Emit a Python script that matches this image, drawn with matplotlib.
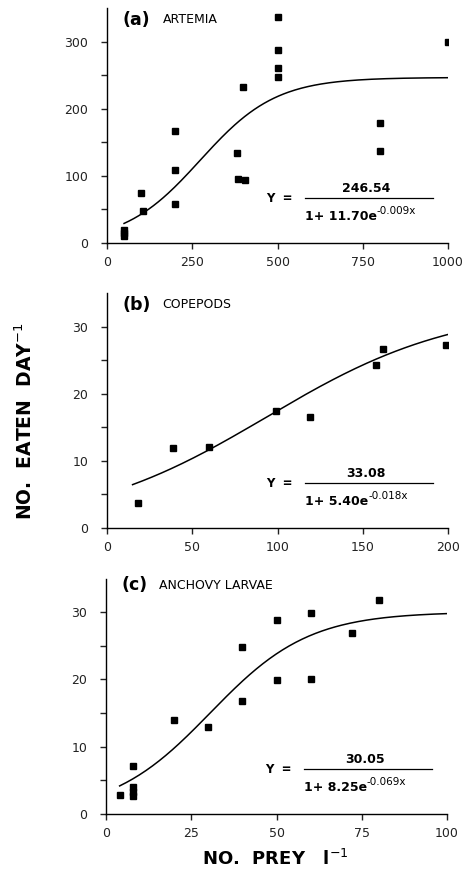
import matplotlib
matplotlib.use("Agg")
import matplotlib.pyplot as plt
import numpy as np

plt.rcParams['font.family'] = ['DejaVu Sans']

# (a) Artemia
art_x = [50, 50, 50, 100, 105, 200, 200, 200, 380, 385, 405, 400, 500, 500, 500, 500, 800, 800, 1000]
art_y = [20, 15, 10, 75, 47, 167, 109, 58, 134, 96, 94, 232, 337, 288, 260, 247, 178, 137, 299]
art_fit = [246.54, 11.70, 0.009]   # Y = a / (1 + b e^(-c x))
art_range = [50, 1000]

# (b) Copepods
cop_x = [18, 39, 60, 99, 119, 158, 162, 199]
cop_y = [3.7, 11.9, 12.0, 17.4, 16.5, 24.3, 26.7, 27.3]
cop_fit = [33.08, 5.40, 0.018]
cop_range = [15, 202]

# (c) Anchovy larvae
anc_x = [4, 8, 8, 8, 8, 20, 30, 40, 40, 50, 50, 60, 60, 72, 80]
anc_y = [2.8, 7.1, 4.0, 3.3, 2.7, 13.9, 12.9, 24.9, 16.8, 28.8, 19.9, 29.9, 20.0, 26.9, 31.9]
anc_fit = [30.05, 8.25, 0.069]
anc_range = [4, 100]

titles = ["(a)", "(b)", "(c)"]
names = ["ARTEMIA", "COPEPODS", "ANCHOVY LARVAE"]
eq_num = ["246.54", "33.08", "30.05"]
eq_den = ["1+ 11.70e", "1+ 5.40e", "1+ 8.25e"]
eq_exp = ["-0.009x", "-0.018x", "-0.069x"]
xticks = [[0, 250, 500, 750, 1000], [0, 50, 100, 150, 200], [0, 25, 50, 75, 100]]
yticks = [[0, 100, 200, 300], [0, 10, 20, 30], [0, 10, 20, 30]]
ymax = [350, 35, 35]

panels = [
    (art_x, art_y, art_fit, art_range),
    (cop_x, cop_y, cop_fit, cop_range),
    (anc_x, anc_y, anc_fit, anc_range),
]

fig = plt.figure(figsize=(4.73, 8.73), dpi=100)
rects = [
    [107/473, 1 - 243/873, 341/473, 235/873],
    [107/473, 1 - 528/873, 341/473, 235/873],
    [106/473, 1 - 813.7/873, 341/473, 235/873],
]
title_y = [0.95, 0.95, 0.972]
name_x = [0.163, 0.163, 0.155]

for i, (px, py, fit, rng) in enumerate(panels):
    ax = fig.add_axes(rects[i])
    a, b, c = fit
    xs = np.linspace(rng[0], rng[1], 200)
    ax.plot(xs, a / (1 + b * np.exp(-c * xs)), color='black', lw=1.1)
    ax.plot(px, py, 's', color='black', ms=4.3, mec='black')

    ax.set_xlim(0, xticks[i][-1])
    ax.set_ylim(0, ymax[i])
    ax.set_xticks(xticks[i])
    ax.set_yticks(yticks[i])
    step = yticks[i][1] - yticks[i][0]
    ax.set_yticks(np.arange(step / 2, ymax[i], step), minor=True)
    for s in ['top', 'right']:
        ax.spines[s].set_visible(False)
    for s in ['left', 'bottom']:
        ax.spines[s].set_linewidth(1.0)
    ax.tick_params(axis='both', which='both', direction='out', length=4.5,
                   width=1.0, labelsize=9, colors='#222222')
    ax.tick_params(axis='y', which='both', pad=9)
    ax.tick_params(axis='x', which='both', pad=5)
    ax.tick_params(axis='y', which='minor', labelleft=False)
    ax.patch.set_alpha(0)

    ax.text(0.044, title_y[i], titles[i], transform=ax.transAxes, fontsize=12.5,
            fontweight='bold', va='center', ha='left')
    ax.text(name_x[i], title_y[i], names[i], transform=ax.transAxes, fontsize=9,
            va='center', ha='left')

    # fitted equation
    ax.text(0.505, 0.19, "Y  =", transform=ax.transAxes, fontsize=8.5, fontweight='bold',
            ha='center', va='center')
    ax.plot([0.58, 0.955], [0.19, 0.19], transform=ax.transAxes, color='black', lw=0.9)
    ax.text(0.76, 0.232, eq_num[i], transform=ax.transAxes, fontsize=9, fontweight='bold',
            ha='center', va='center')
    den = ax.text(0.58, 0.112, eq_den[i], transform=ax.transAxes, fontsize=9,
                  fontweight='bold', ha='left', va='center')
    ax.annotate(eq_exp[i], xy=(1.0, 0.55), xycoords=den, fontsize=7.5,
                ha='left', va='bottom')

fig.text(25/473, 1 - 421/873, "NO.  EATEN  DAY$^{-1}$", rotation=90, fontsize=13.5,
         fontweight='bold', ha='center', va='center')
fig.text(275/473, 1 - 859/873, "NO.  PREY   l$^{-1}$", fontsize=13,
         fontweight='bold', ha='center', va='center')

fig.savefig("out.png", dpi=100)
